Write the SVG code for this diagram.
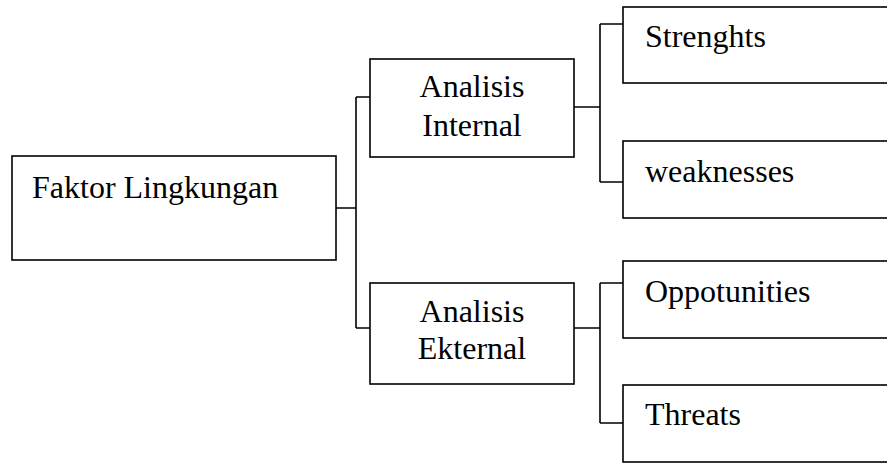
<svg xmlns="http://www.w3.org/2000/svg" width="887" height="463" viewBox="0 0 887 463">
<style>
.box{fill:#fff;stroke:#000;stroke-width:1.6}
text{font-family:'Liberation Serif','Times New Roman','DejaVu Serif',serif;font-size:32px;fill:#000}
.c{text-anchor:middle}
.conn{fill:none;stroke:#000;stroke-width:1.6}
</style>
<rect width="887" height="463" fill="#fff"/>
<g id="connectors">
<path class="conn" d="M336,208 H356 M356,97 V328 M356,97 H370 M356,328 H370"/>
<path class="conn" d="M574,107 H600 M600,24 V182 M600,24 H623 M600,182 H623"/>
<path class="conn" d="M574,328 H600 M600,283 V423 M600,283 H623 M600,423 H623"/>
</g>
<g id="faktor">
<rect class="box" x="12" y="156" width="324" height="104"/>
<text font-family="Liberation Serif, serif" x="32" y="198">Faktor Lingkungan</text>
</g>
<g id="internal">
<rect class="box" x="370" y="59" width="204" height="98"/>
<text class="c" font-family="Liberation Serif, serif" x="472" y="97">Analisis</text>
<text class="c" font-family="Liberation Serif, serif" x="472" y="136">Internal</text>
</g>
<g id="eksternal">
<rect class="box" x="370" y="283" width="204" height="101"/>
<text class="c" font-family="Liberation Serif, serif" x="472" y="322">Analisis</text>
<text class="c" font-family="Liberation Serif, serif" x="472" y="359">Ekternal</text>
</g>
<g id="strengths">
<rect class="box" x="623" y="7" width="280" height="76"/>
<text font-family="Liberation Serif, serif" x="645" y="47">Strenghts</text>
</g>
<g id="weaknesses">
<rect class="box" x="623" y="141" width="280" height="77"/>
<text font-family="Liberation Serif, serif" x="645" y="182">weaknesses</text>
</g>
<g id="opportunities">
<rect class="box" x="623" y="261" width="280" height="77"/>
<text font-family="Liberation Serif, serif" x="645" y="302">Oppotunities</text>
</g>
<g id="threats">
<rect class="box" x="623" y="385" width="280" height="77"/>
<text font-family="Liberation Serif, serif" x="645" y="425">Threats</text>
</g>
</svg>
